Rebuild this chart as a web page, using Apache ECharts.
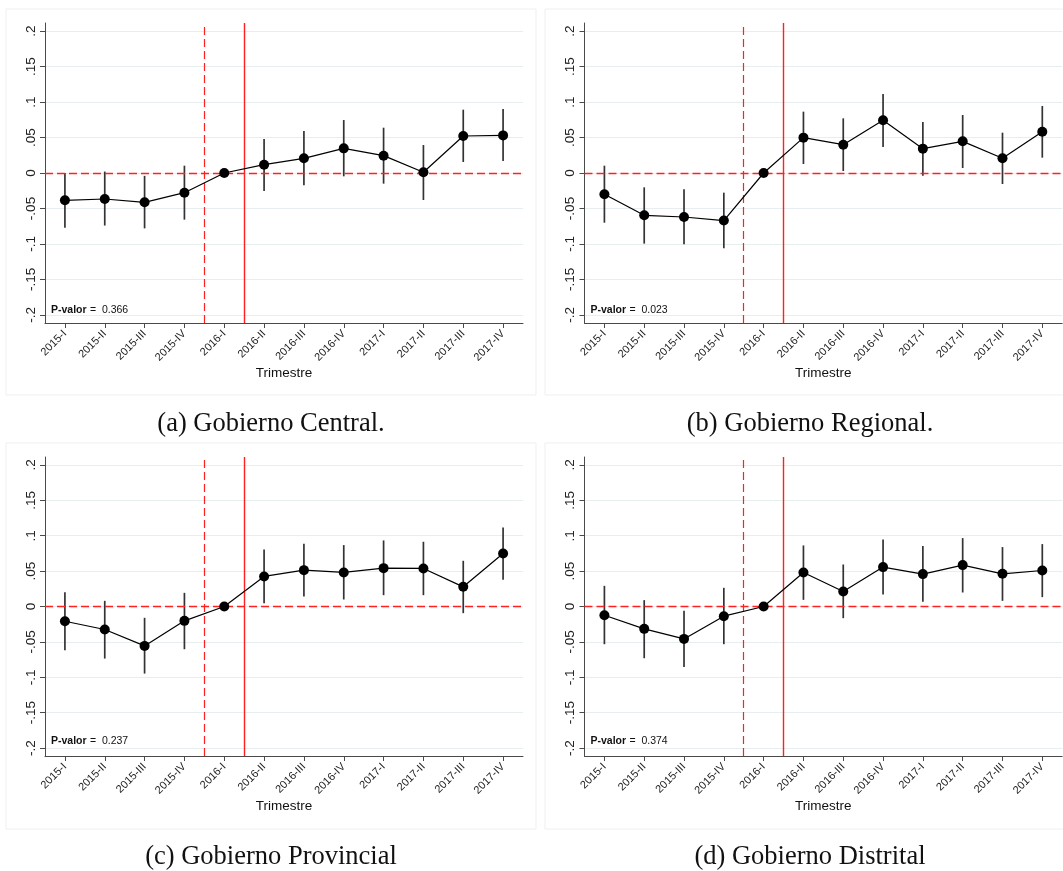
<!DOCTYPE html>
<html>
<head>
<meta charset="utf-8">
<script src="https://cdn.jsdelivr.net/npm/echarts@6/dist/echarts.min.js"></script>
<style>
  html, body { margin: 0; padding: 0; background: #fff; }
  #chart { width: 1063px; height: 871px; }
</style>
</head>
<body>
<div id="chart"></div>
<script>
// Quarters on the horizontal axis
const categories = ['2015-I', '2015-II', '2015-III', '2015-IV', '2016-I', '2016-II',
  '2016-III', '2016-IV', '2017-I', '2017-II', '2017-III', '2017-IV'];

// Vertical axis ticks and their labels
const yTickValues = [-0.2, -0.15, -0.1, -0.05, 0, 0.05, 0.1, 0.15, 0.2];
const yTickLabels = ['-.2', '-.15', '-.1', '-.05', '0', '.05', '.1', '.15', '.2'];

// Gobierno Central: point estimates and 95% confidence bounds (2016-I is the reference)
const centralCoef = [-0.0385, -0.0366, -0.0413, -0.0277, 0, 0.0117, 0.0207, 0.0347, 0.0244, 0.0010, 0.0521, 0.0530];
const centralLow  = [-0.0770, -0.0740, -0.0780, -0.0657, null, -0.0254, -0.0174, -0.0047, -0.0150, -0.0380, 0.0155, 0.0169];
const centralHigh = [0.0000, 0.0020, -0.0040, 0.0103, null, 0.0479, 0.0592, 0.0746, 0.0638, 0.0394, 0.0892, 0.0901];

// Gobierno Regional
const regionalCoef = [-0.0300, -0.0596, -0.0620, -0.0670, 0, 0.0498, 0.0399, 0.0742, 0.0343, 0.0446, 0.0207, 0.0582];
const regionalLow  = [-0.0700, -0.0995, -0.1005, -0.1060, null, 0.0127, 0.0028, 0.0366, -0.0038, 0.0070, -0.0155, 0.0216];
const regionalHigh = [0.0103, -0.0202, -0.0230, -0.0277, null, 0.0864, 0.0770, 0.1113, 0.0718, 0.0817, 0.0568, 0.0944];

// Gobierno Provincial
const provincialCoef = [-0.0208, -0.0325, -0.0557, -0.0203, 0, 0.0425, 0.0514, 0.0481, 0.0542, 0.0538, 0.0278, 0.0750];
const provincialLow  = [-0.0618, -0.0736, -0.0948, -0.0604, null, 0.0047, 0.0142, 0.0099, 0.0160, 0.0160, -0.0094, 0.0377];
const provincialHigh = [0.0203, 0.0080, -0.0160, 0.0193, null, 0.0807, 0.0887, 0.0868, 0.0934, 0.0915, 0.0646, 0.1118];

// Gobierno Distrital
const distritalCoef = [-0.0123, -0.0316, -0.0458, -0.0137, 0, 0.0481, 0.0212, 0.0557, 0.0458, 0.0585, 0.0462, 0.0509];
const distritalLow  = [-0.0533, -0.0731, -0.0854, -0.0533, null, 0.0094, -0.0165, 0.0170, 0.0066, 0.0198, 0.0080, 0.0132];
const distritalHigh = [0.0292, 0.0090, -0.0061, 0.0264, null, 0.0863, 0.0594, 0.0948, 0.0854, 0.0967, 0.0840, 0.0882];

// Joint test p-values and sub-figure captions
const pValues = ['0.366', '0.023', '0.237', '0.374'];
const captions = ['(a) Gobierno Central.', '(b) Gobierno Regional.', '(c) Gobierno Provincial', '(d) Gobierno Distrital'];

// Event markers on the quarter axis: anticipation line and treatment line
const anticipationAt = 3.5;
const treatmentAt = 4.5;

const panels = [
  { coef: centralCoef, low: centralLow, high: centralHigh },
  { coef: regionalCoef, low: regionalLow, high: regionalHigh },
  { coef: provincialCoef, low: provincialLow, high: provincialHigh },
  { coef: distritalCoef, low: distritalLow, high: distritalHigh }
];

// Panel geometry (pixels)
const layout = [
  { left: 45,    top: 23,  width: 478,   height: 300, frameX: 6,   frameY: 9,   capX: 271, capY: 424, pY: 310 },
  { left: 584.5, top: 23,  width: 477.7, height: 300, frameX: 545, frameY: 9,   capX: 810, capY: 424, pY: 310 },
  { left: 45,    top: 457, width: 478,   height: 299, frameX: 6,   frameY: 443, capX: 271, capY: 857, pY: 741 },
  { left: 584.5, top: 457, width: 477.7, height: 299, frameX: 545, frameY: 443, capX: 810, capY: 857, pY: 741 }
];

const SANS = 'Liberation Sans, Arial, Helvetica, sans-serif';
const SERIF = 'Liberation Serif, Times New Roman, serif';
const AXIS_COLOR = '#4a4a4a';
const GRID_COLOR = '#e6eef0';

const grids = [], xAxes = [], yAxes = [], series = [], graphics = [];

panels.forEach((p, k) => {
  const g = layout[k];
  grids.push({ left: g.left, top: g.top, width: g.width, height: g.height, containLabel: false });

  xAxes.push({
    type: 'value', gridIndex: k, min: -0.5, max: 11.5,
    name: 'Trimestre', nameLocation: 'middle', nameGap: 41,
    nameTextStyle: { fontFamily: SANS, fontSize: 13.5, color: '#111' },
    axisLine: { onZero: false, lineStyle: { color: AXIS_COLOR, width: 1 } },
    axisTick: { show: true, length: 5, customValues: categories.map((c, i) => i), lineStyle: { color: AXIS_COLOR } },
    axisLabel: {
      customValues: categories.map((c, i) => i),
      rotate: 45, margin: 9, fontFamily: SANS, fontSize: 11, color: '#222',
      formatter: v => categories[Math.round(v)]
    },
    splitLine: { show: false }
  });

  yAxes.push({
    type: 'value', gridIndex: k, min: -0.2113, max: 0.2113,
    axisLine: { show: true, onZero: false, lineStyle: { color: AXIS_COLOR, width: 1 } },
    axisTick: { show: true, length: 5, customValues: yTickValues, lineStyle: { color: AXIS_COLOR } },
    axisLabel: {
      customValues: yTickValues,
      rotate: 90, margin: 7, fontFamily: SANS, fontSize: 13.5, color: '#222',
      formatter: v => {
        const idx = yTickValues.findIndex(t => Math.abs(t - v) < 1e-6);
        return idx >= 0 ? yTickLabels[idx] : '';
      }
    },
    splitLine: { show: true, lineStyle: { color: GRID_COLOR, width: 1.2 } }
  });

  // Confidence intervals as vertical segments
  const ciData = [];
  p.coef.forEach((c, i) => {
    if (p.low[i] !== null && p.high[i] !== null) ciData.push([i, p.low[i], p.high[i]]);
  });
  series.push({
    type: 'custom', xAxisIndex: k, yAxisIndex: k, z: 3,
    encode: { x: 0, y: [1, 2] },
    data: ciData,
    renderItem: (params, api) => {
      const a = api.coord([api.value(0), api.value(1)]);
      const b = api.coord([api.value(0), api.value(2)]);
      return {
        type: 'line',
        shape: { x1: a[0], y1: a[1], x2: b[0], y2: b[1] },
        style: { stroke: '#333333', lineWidth: 1.7 }
      };
    }
  });

  // Point estimates joined by a line, with the reference lines
  series.push({
    type: 'line', xAxisIndex: k, yAxisIndex: k, z: 5,
    data: p.coef.map((v, i) => [i, v]),
    symbol: 'circle', symbolSize: 10,
    itemStyle: { color: '#000' },
    lineStyle: { color: '#000', width: 1.2 },
    markLine: {
      silent: true, symbol: 'none', label: { show: false },
      data: [
        { yAxis: 0, lineStyle: { color: '#ff2020', type: [8, 4], width: 1.3 } },
        { xAxis: anticipationAt, lineStyle: { color: '#ff2020', type: [8, 4], width: 1.2 } },
        { xAxis: treatmentAt, lineStyle: { color: '#ff2020', type: 'solid', width: 1.4 } }
      ]
    }
  });

  // Panel frame
  graphics.push({
    type: 'rect', z: -10, silent: true,
    shape: { x: g.frameX, y: g.frameY, width: 530, height: 386 },
    style: { fill: 'none', stroke: '#efefef', lineWidth: 1 }
  });

  // P-value annotation
  graphics.push({
    type: 'text', silent: true,
    x: g.left + 6, y: g.pY,
    style: {
      text: '{b|P-valor} {n|=  ' + pValues[k] + '}',
      verticalAlign: 'middle',
      rich: {
        b: { fontFamily: SANS, fontSize: 10.5, fontWeight: 'bold', fill: '#111' },
        n: { fontFamily: SANS, fontSize: 10.5, fill: '#111' }
      }
    }
  });

  // Sub-figure caption
  graphics.push({
    type: 'text', silent: true,
    x: g.capX, y: g.capY,
    style: {
      text: captions[k], align: 'center', verticalAlign: 'middle',
      fontFamily: SERIF, fontSize: 26.5, fill: '#111'
    }
  });
});

const chart = echarts.init(document.getElementById('chart'), null, { renderer: 'canvas' });
chart.setOption({
  backgroundColor: '#fff',
  animation: false,
  grid: grids,
  xAxis: xAxes,
  yAxis: yAxes,
  series: series,
  graphic: graphics
});
</script>
</body>
</html>
